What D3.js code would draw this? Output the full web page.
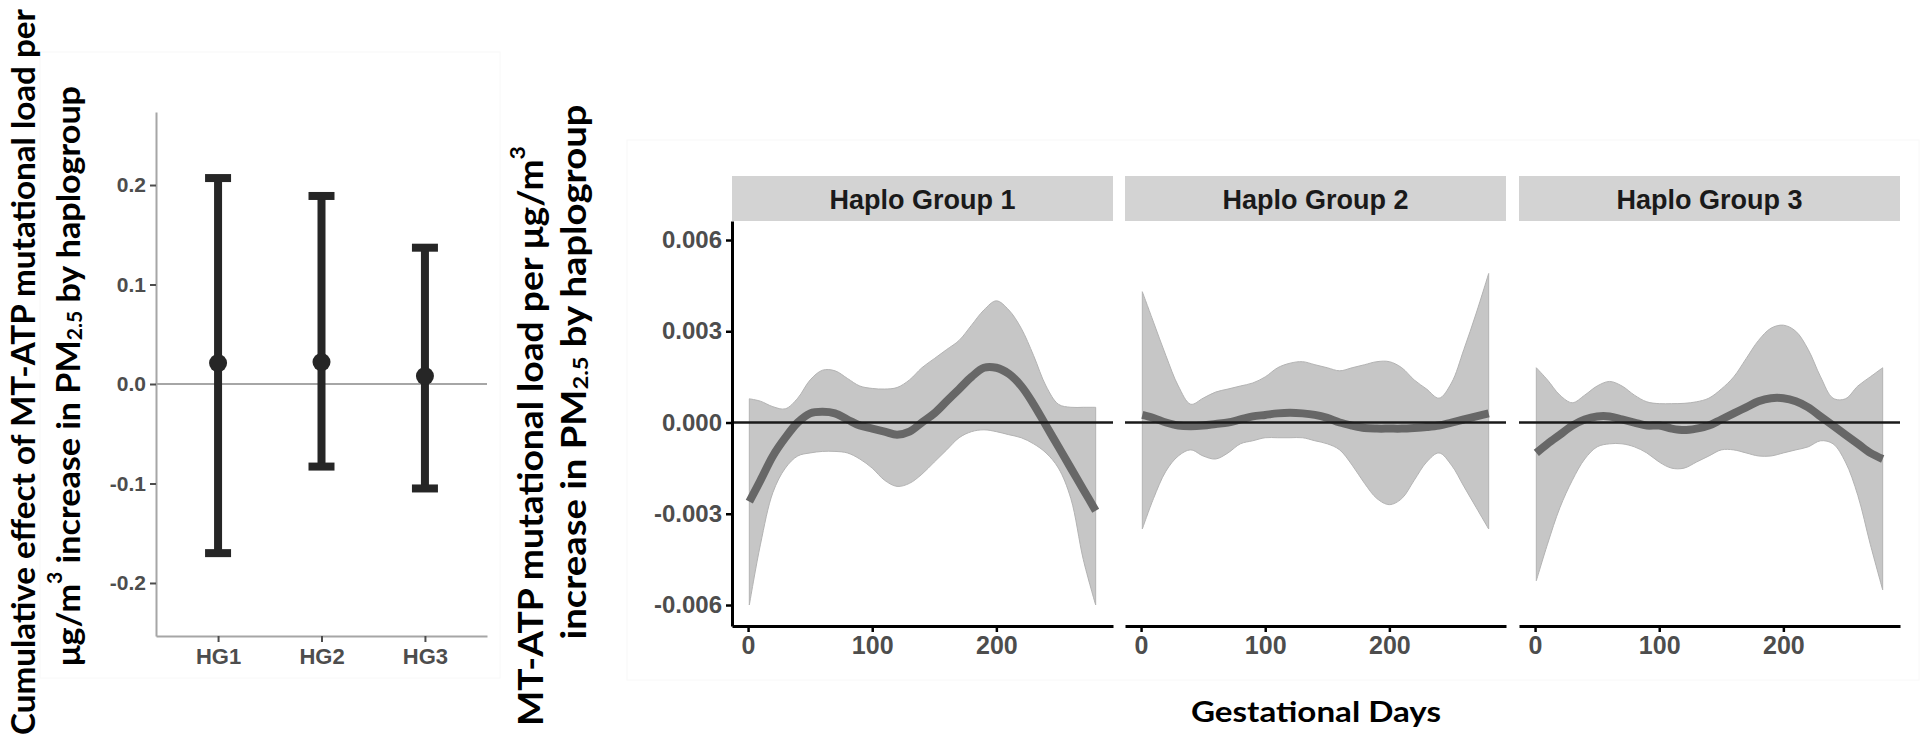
<!DOCTYPE html>
<html>
<head>
<meta charset="utf-8">
<script src="https://cdn.jsdelivr.net/npm/d3@7"></script>
<style>
  body { margin: 0; background: #fff; }
  svg { display: block; }
  .tick text { font-family: "Liberation Sans", Arial, sans-serif; font-weight: bold; }
</style>
</head>
<body>
<div id="chart"></div>
<script>
// --------------- Data --------------- //

// left panel: cumulative effect by haplogroup
const groups = ["HG1", "HG2", "HG3"];
const cumEst = [0.021, 0.022, 0.008];
const cumLow = [-0.170, -0.083, -0.105];
const cumHigh = [0.207, 0.189, 0.137];
const cumTicks = [-0.2, -0.1, 0.0, 0.1, 0.2];

// right panels: distributed lag curves over gestation
const panels = ["Haplo Group 1", "Haplo Group 2", "Haplo Group 3"];
const days = [1, 10, 20, 30, 40, 50, 60, 70, 80, 90, 100, 110, 120, 130, 140,
              150, 160, 170, 180, 190, 200, 210, 220, 230, 240, 250, 260, 270, 280];

const hg1Est  = [-0.0026, -0.0019, -0.0011, -0.0005, 0.0000, 0.0003, 0.00035, 0.0003, 0.0001, -0.0001,
                 -0.0002, -0.0003, -0.0004, -0.0003, 0.0000, 0.0003, 0.0007, 0.0011, 0.0015, 0.0018,
                 0.0018, 0.0016, 0.0012, 0.0006, -0.0001, -0.0008, -0.0015, -0.0022, -0.0029];
const hg1High = [0.00078, 0.0007, 0.00052, 0.00045, 0.0008, 0.0014, 0.00172, 0.0017, 0.00145, 0.0012,
                 0.00112, 0.0011, 0.00115, 0.0014, 0.0018, 0.0021, 0.0024, 0.0027, 0.0032, 0.0037,
                 0.0040, 0.0037, 0.0031, 0.0022, 0.0012, 0.0006, 0.0005, 0.0005, 0.0005];
const hg1Low  = [-0.0060, -0.0040, -0.0023, -0.0015, -0.0011, -0.0010, -0.00095, -0.00095, -0.0010, -0.0012,
                 -0.0015, -0.0019, -0.0021, -0.0020, -0.0017, -0.0013, -0.0009, -0.0005, -0.0003, -0.00024,
                 -0.0003, -0.0004, -0.0005, -0.0007, -0.0010, -0.0015, -0.0025, -0.0045, -0.0060];

const hg2Est  = [0.00025, 0.00015, 0.0000, -0.0001, -0.00012, -0.0001, -0.00005, 0.0000, 0.0001, 0.0002,
                 0.00025, 0.0003, 0.00032, 0.0003, 0.00025, 0.00015, 0.0000, -0.0001, -0.00018, -0.0002,
                 -0.0002, -0.0002, -0.00018, -0.00015, -0.0001, 0.0000, 0.0001, 0.0002, 0.0003];
const hg2High = [0.0043, 0.0033, 0.0022, 0.0012, 0.0006, 0.0008, 0.0010, 0.0011, 0.0012, 0.0013,
                 0.0015, 0.0018, 0.00195, 0.0020, 0.0019, 0.0018, 0.0017, 0.0018, 0.0019, 0.0020,
                 0.0020, 0.0018, 0.0014, 0.0011, 0.0008, 0.0013, 0.0024, 0.0036, 0.0049];
const hg2Low  = [-0.0035, -0.0025, -0.0016, -0.0011, -0.0009, -0.0011, -0.0012, -0.0010, -0.0007, -0.0006,
                 -0.0005, -0.0005, -0.0005, -0.0005, -0.0006, -0.0007, -0.0009, -0.0014, -0.0020, -0.0025,
                 -0.0027, -0.0025, -0.0019, -0.0013, -0.0010, -0.0014, -0.0021, -0.0028, -0.0035];

const hg3Est  = [-0.0010, -0.0007, -0.0004, -0.0001, 0.0001, 0.0002, 0.0002, 0.0001, 0.0000, -0.0001,
                 -0.0001, -0.0002, -0.00025, -0.0002, -0.0001, 0.0001, 0.0003, 0.0005, 0.0007, 0.0008,
                 0.0008, 0.0007, 0.0005, 0.0002, -0.0001, -0.0004, -0.0007, -0.0010, -0.0012];
const hg3High = [0.0018, 0.0014, 0.0009, 0.00065, 0.0009, 0.0012, 0.00135, 0.0012, 0.0009, 0.00068,
                 0.00062, 0.00062, 0.00063, 0.00068, 0.0008, 0.0011, 0.0015, 0.0021, 0.0027, 0.0031,
                 0.0032, 0.0030, 0.0024, 0.0015, 0.0008, 0.00078, 0.0012, 0.0015, 0.0018];
const hg3Low  = [-0.0052, -0.0040, -0.0028, -0.0019, -0.0012, -0.0008, -0.0007, -0.0007, -0.0008, -0.0010,
                 -0.0013, -0.0015, -0.0015, -0.0013, -0.0011, -0.0009, -0.0009, -0.0010, -0.0011, -0.0011,
                 -0.0010, -0.0009, -0.0008, -0.0006, -0.0007, -0.0013, -0.0024, -0.0040, -0.0055];

const dayTicks = [0, 100, 200];
const effTicks = [-0.006, -0.003, 0.000, 0.003, 0.006];

const series = [
    {est: hg1Est, low: hg1Low, high: hg1High},
    {est: hg2Est, low: hg2Low, high: hg2High},
    {est: hg3Est, low: hg3Low, high: hg3High}
];


// --------------- Basic Setup --------------- //

const width = 1920,
    height = 744;

const svg = d3.select("#chart")
    .append("svg")
    .attr("width", width)
    .attr("height", height);

const titleFont = "Lato, 'Open Sans', sans-serif";
const tickFont = "'Liberation Sans', Arial, sans-serif";

// faint frames of the two source figures
svg.append("rect")
    .attr("x", 40).attr("y", 52).attr("width", 460).attr("height", 626)
    .attr("fill", "none").attr("stroke", "#f8f8f8");
svg.append("rect")
    .attr("x", 627).attr("y", 140).attr("width", 1292).attr("height", 540)
    .attr("fill", "none").attr("stroke", "#f8f8f8");

// rotated title with sub/superscripts
function rotTitle(cx, cy, len, size, parts) {
    const t = svg.append("text")
        .attr("transform", `translate(${cx},${cy}) rotate(-90)`)
        .attr("text-anchor", "middle")
        .attr("dominant-baseline", "central")
        .attr("font-family", titleFont)
        .attr("font-weight", 700)
        .attr("font-size", size)
        .attr("fill", "#000")
        .attr("textLength", len)
        .attr("lengthAdjust", "spacingAndGlyphs");
    parts.forEach(p => {
        const s = t.append("tspan").text(p.t);
        if (p.sup) s.attr("dy", -0.38 * size).attr("font-size", size * 0.62);
        if (p.sub) s.attr("dy", 0.22 * size).attr("font-size", size * 0.62);
        if (p.back) s.attr("dy", p.back * size);
    });
    return t;
}


// --------------- Left chart: cumulative effect --------------- //

const xL = d3.scalePoint()
    .domain(groups)
    .range([156, 487])
    .padding(0.6);

const yL = d3.scaleLinear()
    .domain([-0.2533, 0.2734])
    .range([636, 112]);

const gL = svg.append("g");

// zero reference
gL.append("line")
    .attr("x1", 156).attr("x2", 487)
    .attr("y1", yL(0)).attr("y2", yL(0))
    .attr("stroke", "#a6a6a6").attr("stroke-width", 2);

const axL = gL.append("g")
    .attr("transform", "translate(156,0)")
    .call(d3.axisLeft(yL).tickValues(cumTicks).tickFormat(d => d.toFixed(1)).tickSize(6).tickSizeOuter(0).tickPadding(4));
const axB = gL.append("g")
    .attr("transform", "translate(0,636)")
    .call(d3.axisBottom(xL).tickSize(6).tickSizeOuter(0).tickPadding(6));

[axL, axB].forEach(a => {
    a.select(".domain").attr("stroke", "#a6a6a6").attr("stroke-width", 2);
    a.selectAll(".tick line").attr("stroke", "#4d4d4d").attr("stroke-width", 2);
});
axL.selectAll(".tick text").attr("font-size", 21).attr("fill", "#4d4d4d");
axB.selectAll(".tick text").attr("font-size", 22).attr("fill", "#4d4d4d");

const bars = groups.map((g, i) => ({g, est: cumEst[i], low: cumLow[i], high: cumHigh[i]}));

gL.selectAll(".bar").data(bars).join("line")
    .attr("x1", d => xL(d.g)).attr("x2", d => xL(d.g))
    .attr("y1", d => yL(d.low)).attr("y2", d => yL(d.high))
    .attr("stroke", "#262626").attr("stroke-width", 8);

gL.selectAll(".capT").data(bars).join("line")
    .attr("x1", d => xL(d.g) - 13).attr("x2", d => xL(d.g) + 13)
    .attr("y1", d => yL(d.high)).attr("y2", d => yL(d.high))
    .attr("stroke", "#262626").attr("stroke-width", 8);

gL.selectAll(".capB").data(bars).join("line")
    .attr("x1", d => xL(d.g) - 13).attr("x2", d => xL(d.g) + 13)
    .attr("y1", d => yL(d.low)).attr("y2", d => yL(d.low))
    .attr("stroke", "#262626").attr("stroke-width", 8);

gL.selectAll("circle").data(bars).join("circle")
    .attr("cx", d => xL(d.g)).attr("cy", d => yL(d.est))
    .attr("r", 9).attr("fill", "#262626");

rotTitle(22, 372, 726, 33, [{t: "Cumulative effect of MT-ATP mutational load per"}]);
rotTitle(67, 376, 580, 33, [
    {t: "μg/m"}, {t: "3", sup: true}, {t: " increase in PM", back: 0.38},
    {t: "2.5", sub: true}, {t: " by haplogroup", back: -0.22}
]);


// --------------- Right chart: lag curves by haplogroup --------------- //

const panelX = [732, 1125, 1519],
    panelW = 381,
    stripTop = 176,
    stripH = 45,
    plotTop = 221,
    plotBottom = 626;

const [d0, d1] = d3.extent(days);
const pad = (d1 - d0) * 0.05;
const xR = d3.scaleLinear().domain([d0 - pad, d1 + pad]).range([0, panelW]);
const yR = d3.scaleLinear().domain([-0.00669, 0.006625]).range([plotBottom, plotTop]);

const area = d3.area()
    .x((d, i) => xR(days[i]))
    .y0(d => yR(d.low))
    .y1(d => yR(d.high))
    .curve(d3.curveCatmullRom);

const line = d3.line()
    .x((d, i) => xR(days[i]))
    .y(d => yR(d))
    .curve(d3.curveCatmullRom);

panels.forEach((name, p) => {
    const g = svg.append("g").attr("transform", `translate(${panelX[p]},0)`);
    const s = series[p];
    const band = days.map((d, i) => ({low: s.low[i], high: s.high[i]}));

    // strip
    g.append("rect")
        .attr("x", 0).attr("y", stripTop)
        .attr("width", panelW).attr("height", stripH)
        .attr("fill", "#d3d3d3");
    g.append("text")
        .attr("x", panelW / 2).attr("y", stripTop + stripH / 2 + 1)
        .attr("text-anchor", "middle")
        .attr("dominant-baseline", "central")
        .attr("font-family", tickFont)
        .attr("font-weight", "bold")
        .attr("font-size", 27)
        .attr("fill", "#1a1a1a")
        .text(name);

    // confidence band
    g.append("path")
        .datum(band)
        .attr("d", area)
        .attr("fill", "#c6c6c6")
        .attr("stroke", "#b3b3b3")
        .attr("stroke-width", 1);

    // estimate
    g.append("path")
        .datum(s.est)
        .attr("d", line)
        .attr("fill", "none")
        .attr("stroke", "#676767")
        .attr("stroke-width", 8);

    // zero line
    g.append("line")
        .attr("x1", 0).attr("x2", panelW)
        .attr("y1", yR(0)).attr("y2", yR(0))
        .attr("stroke", "#1a1a1a").attr("stroke-width", 2.5);

    // x axis
    const ax = g.append("g")
        .attr("transform", `translate(0,${plotBottom})`)
        .call(d3.axisBottom(xR).tickValues(dayTicks).tickSize(6).tickSizeOuter(0).tickPadding(4));
    ax.select(".domain").attr("stroke", "#000").attr("stroke-width", 3);
    ax.selectAll(".tick line").attr("stroke", "#000").attr("stroke-width", 2.5);
    ax.selectAll(".tick text").attr("font-size", 25).attr("fill", "#4d4d4d");

    // y axis on the first panel only
    if (p === 0) {
        const ay = g.append("g")
            .call(d3.axisLeft(yR).tickValues(effTicks).tickFormat(d => d.toFixed(3)).tickSize(6).tickSizeOuter(0).tickPadding(4));
        ay.select(".domain").attr("stroke", "#000").attr("stroke-width", 3);
        ay.selectAll(".tick line").attr("stroke", "#000").attr("stroke-width", 2.5);
        ay.selectAll(".tick text").attr("font-size", 24).attr("fill", "#4d4d4d");
    }
});

// x title
svg.append("text")
    .attr("x", 1316).attr("y", 722)
    .attr("text-anchor", "middle")
    .attr("font-family", titleFont)
    .attr("font-weight", 700)
    .attr("font-size", 29)
    .attr("textLength", 250)
    .attr("lengthAdjust", "spacingAndGlyphs")
    .text("Gestational Days");

// y title
rotTitle(529, 436, 580, 34, [
    {t: "MT-ATP mutational load per μg/m"}, {t: "3", sup: true}
]);
rotTitle(572, 372, 535, 34, [
    {t: "increase in PM"}, {t: "2.5", sub: true}, {t: " by haplogroup", back: -0.22}
]);
</script>
</body>
</html>
